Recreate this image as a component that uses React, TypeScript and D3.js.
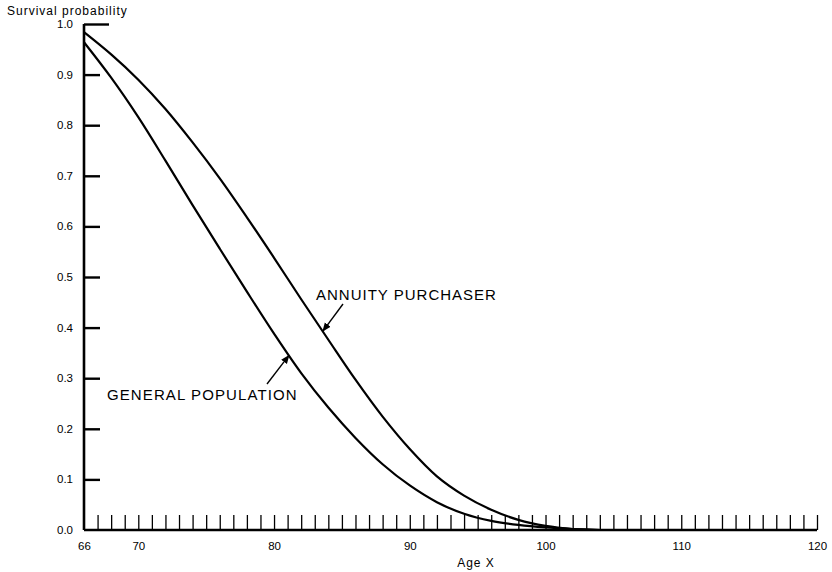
import {useEffect, useRef} from "react";
import * as d3 from "d3";

const ages = [66, 68, 70, 72, 74, 76, 78, 80, 82, 84, 86, 88, 90, 92, 94, 96, 98, 100, 102, 104];
const annuityPurchaser = [0.984, 0.94, 0.89, 0.832, 0.766, 0.695, 0.618, 0.538, 0.456, 0.376, 0.297, 0.224, 0.16, 0.106, 0.068, 0.04, 0.02, 0.008, 0.002, 0];
const generalPopulation = [0.964, 0.894, 0.816, 0.73, 0.642, 0.556, 0.471, 0.388, 0.31, 0.242, 0.182, 0.13, 0.088, 0.055, 0.032, 0.018, 0.01, 0.005, 0.002, 0];
const yTicks = [0, 0.1, 0.2, 0.3, 0.4, 0.5, 0.6, 0.7, 0.8, 0.9, 1.0];
const xLabelTicks = [66, 70, 80, 90, 100, 110, 120];
const xMinorTicks = d3.range(67, 121);

const W = 832;
const H = 572;
const FONT = "'Liberation Sans', Arial, Helvetica, sans-serif";

const SurvivalChart: React.FC = () => {
    const svgRef = useRef<SVGSVGElement | null>(null);

    useEffect(() => {
        const svg = d3.select(svgRef.current);
        svg.selectAll("*").remove();

        const x = d3.scaleLinear().domain([66, 120]).range([84, 817]);
        const y = d3.scaleLinear().domain([0, 1]).range([530, 24]);

        // arrow head
        svg.append("defs").append("marker")
            .attr("id", "arrowHead")
            .attr("viewBox", "0 0 10 10")
            .attr("refX", 9).attr("refY", 5)
            .attr("markerWidth", 9).attr("markerHeight", 9)
            .attr("markerUnits", "userSpaceOnUse")
            .attr("orient", "auto")
            .append("path")
            .attr("d", "M0,1 L10,5 L0,9 Z")
            .attr("fill", "#000");

        // y axis: ticks pointing right
        const yAxis = svg.append("g")
            .attr("transform", `translate(${x(66)},0)`)
            .call(d3.axisRight(y).tickValues(yTicks).tickSize(16).tickFormat(() => ""));
        yAxis.select(".domain").attr("d", `M0,${y(1)}V${y(0)}`).attr("stroke-width", 2.6);
        yAxis.selectAll(".tick line").attr("stroke-width", 2.4);
        yAxis.selectAll<SVGLineElement, number>(".tick line")
            .filter(d => d === 1)
            .attr("x2", 25);
        yAxis.selectAll(".tick").filter(d => d === 0).select("line").remove();

        // y tick labels
        svg.append("g").selectAll("text")
            .data(yTicks)
            .enter()
            .append("text")
            .attr("x", 73)
            .attr("y", d => y(d))
            .attr("dy", "0.35em")
            .attr("text-anchor", "end")
            .attr("font-family", FONT)
            .attr("font-size", 11.5)
            .attr("fill", "#000")
            .text(d => d.toFixed(1));

        // x axis minor ticks pointing up
        const xAxis = svg.append("g")
            .attr("transform", `translate(0,${y(0)})`)
            .call(d3.axisTop(x).tickValues(xMinorTicks).tickSize(15).tickFormat(() => ""));
        xAxis.select(".domain").attr("d", `M${x(66)},0H${x(120)}`).attr("stroke-width", 2.6);
        xAxis.selectAll(".tick line").attr("stroke-width", 1.3);

        // x labels
        svg.append("g")
            .attr("transform", `translate(0,${y(0)})`)
            .call(d3.axisBottom(x).tickValues(xLabelTicks).tickSize(0).tickPadding(12).tickFormat(d3.format("d")))
            .call(g => g.select(".domain").remove())
            .selectAll("text")
            .attr("font-family", FONT)
            .attr("font-size", 11.5)
            .attr("fill", "#000");

        // curves
        const line = d3.line<number>()
            .x((_, i) => x(ages[i]))
            .y(d => y(d))
            .curve(d3.curveCatmullRom.alpha(0.5));

        [annuityPurchaser, generalPopulation].forEach(series => {
            svg.append("path")
                .attr("d", line(series))
                .attr("fill", "none")
                .attr("stroke", "#000")
                .attr("stroke-width", 2.2);
        });

        // annotations
        svg.append("text")
            .attr("x", 316).attr("y", 300)
            .attr("font-family", FONT)
            .attr("font-size", 15)
            .attr("letter-spacing", 1)
            .text("ANNUITY PURCHASER");
        svg.append("line")
            .attr("x1", 343).attr("y1", 304)
            .attr("x2", x(83.6)).attr("y2", y(0.393))
            .attr("stroke", "#000").attr("stroke-width", 1.4)
            .attr("marker-end", "url(#arrowHead)");

        svg.append("text")
            .attr("x", 107).attr("y", 400)
            .attr("font-family", FONT)
            .attr("font-size", 15)
            .attr("letter-spacing", 1.1)
            .text("GENERAL POPULATION");
        svg.append("line")
            .attr("x1", 267).attr("y1", 384)
            .attr("x2", x(81.1)).attr("y2", y(0.345))
            .attr("stroke", "#000").attr("stroke-width", 1.4)
            .attr("marker-end", "url(#arrowHead)");

        // axis titles
        svg.append("text")
            .attr("x", 7).attr("y", 15)
            .attr("font-family", FONT)
            .attr("font-size", 12)
            .attr("letter-spacing", 1)
            .text("Survival probability");

        svg.append("text")
            .attr("x", 476).attr("y", 567)
            .attr("text-anchor", "middle")
            .attr("font-family", FONT)
            .attr("font-size", 12)
            .attr("letter-spacing", 1)
            .text("Age X");
    }, []);

    return <svg ref={svgRef} width={W} height={H} style={{position: "absolute", left: 0, top: 0, background: "#fff"}}></svg>;
};

export default function App() {
    return <SurvivalChart/>;
}
